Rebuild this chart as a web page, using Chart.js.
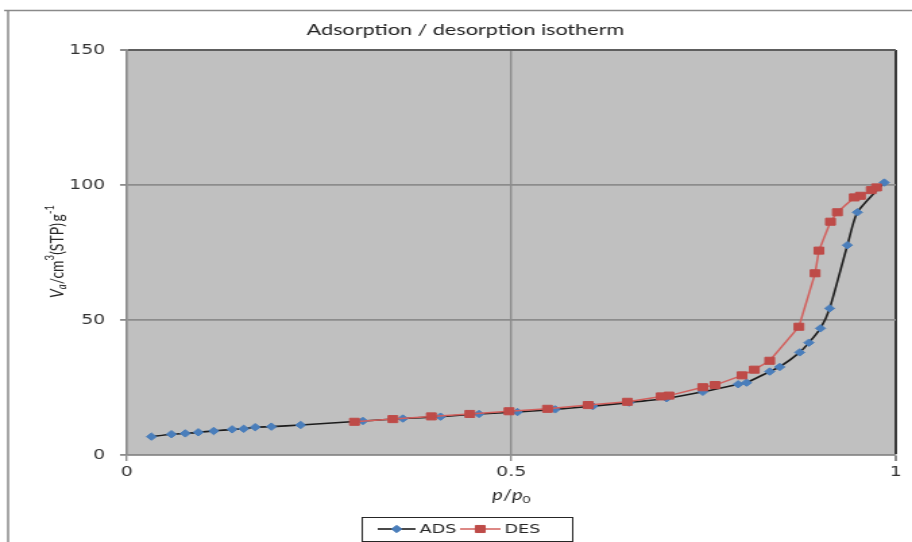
<!DOCTYPE html>
<html>
<head>
<meta charset="utf-8">
<title>Adsorption / desorption isotherm</title>
<script src="https://cdn.jsdelivr.net/npm/chart.js@4/dist/chart.umd.min.js"></script>
<style>
  html, body { margin: 0; padding: 0; background: #ffffff; overflow: hidden; }
  /* the drawing is laid out on a 676 px wide canvas and shown widened to 912 px */
  #wrap { width: 676px; height: 542px; transform: scaleX(1.34911); transform-origin: 0 0; }
  #iso { display: block; }
</style>
</head>
<body>
<div id="wrap"><canvas id="iso" width="676" height="542" style="width:676px;height:542px"></canvas></div>
<script>
// Relative pressure p/p0 and adsorbed volume (cm3(STP)/g), adsorption branch
const pRelAds = [0.032, 0.058, 0.076, 0.093, 0.113, 0.137, 0.152, 0.167, 0.188, 0.226,
                 0.307, 0.359, 0.408, 0.458, 0.508, 0.557, 0.606, 0.653, 0.702, 0.749,
                 0.795, 0.806, 0.836, 0.849, 0.875, 0.887, 0.902, 0.914, 0.937, 0.950, 0.985];
const volAds  = [6.8, 7.7, 8.0, 8.4, 8.9, 9.5, 9.7, 10.3, 10.5, 11.1,
                 12.6, 13.5, 14.2, 15.2, 15.9, 16.9, 18.1, 19.4, 21.0, 23.4,
                 26.2, 26.8, 30.9, 32.6, 38.0, 41.6, 46.9, 54.3, 77.7, 89.9, 100.9];

// Desorption branch, from high to low relative pressure
const pRelDes = [0.975, 0.968, 0.954, 0.946, 0.924, 0.915, 0.900, 0.895, 0.874, 0.836,
                 0.816, 0.800, 0.765, 0.749, 0.705, 0.695, 0.651, 0.600, 0.547, 0.497,
                 0.446, 0.396, 0.346, 0.296];
const volDes  = [99.1, 98.1, 96.0, 95.4, 89.9, 86.4, 75.7, 67.3, 47.5, 34.9,
                 31.6, 29.5, 25.9, 25.1, 22.0, 21.7, 19.7, 18.5, 17.1, 16.2,
                 15.2, 14.3, 13.3, 12.3];

const seriesNames = ['ADS', 'DES'];
const xTickValues = [0, 0.5, 1];
const yTickValues = [0, 50, 100, 150];
const chartTitle = 'Adsorption / desorption isotherm';

const toPoints = (xs, ys) => xs.map((x, i) => ({ x: x, y: ys[i] }));

const GRID = '#8c8c8c';
const TICK_FONT = { family: 'DejaVu Sans', size: 14 };

// Draws a run of text pieces (italic / subscript / superscript) centred on (x, y)
function drawRich(ctx, parts, x, y, size, family, color) {
  const fontFor = p => {
    const s = (p.sub || p.sup) ? size * 0.68 : size;
    return (p.italic ? 'italic ' : '') + s + 'px ' + family;
  };
  let total = 0;
  parts.forEach(p => { ctx.font = fontFor(p); total += ctx.measureText(p.t).width; });
  let cx = x - total / 2;
  ctx.fillStyle = color;
  ctx.textAlign = 'left';
  ctx.textBaseline = 'middle';
  parts.forEach(p => {
    ctx.font = fontFor(p);
    let dy = 0;
    if (p.sub) dy = size * 0.3;
    if (p.sup) dy = -size * 0.38;
    ctx.fillText(p.t, cx, y + dy);
    cx += ctx.measureText(p.t).width;
  });
}

const decorations = {
  id: 'decorations',
  beforeDraw(chart) {
    const { ctx, chartArea: a } = chart;
    ctx.save();
    // outer frame edges
    ctx.strokeStyle = '#8a8a8a';
    ctx.lineWidth = 1.5;
    ctx.beginPath();
    ctx.moveTo(3, 10.5);
    ctx.lineTo(chart.width, 10.5);
    ctx.moveTo(6, 10.5);
    ctx.lineTo(6, chart.height);
    ctx.stroke();
    // plot background
    ctx.fillStyle = '#c0c0c0';
    ctx.fillRect(a.left, a.top, a.right - a.left, a.bottom - a.top);
    ctx.restore();
  },
  afterDraw(chart) {
    const { ctx, chartArea: a } = chart;
    ctx.save();
    // title
    ctx.fillStyle = '#222222';
    ctx.font = '16px Lato';
    ctx.textAlign = 'center';
    ctx.textBaseline = 'middle';
    ctx.fillText(chartTitle, 345, 30);

    // x axis title: p/p0
    drawRich(ctx, [
      { t: 'p', italic: true }, { t: '/' }, { t: 'p', italic: true }, { t: '0', sub: true }
    ], (a.left + a.right) / 2, 495, 15, 'Lato', '#262626');

    // y axis title: Va/cm3(STP) g-1
    ctx.translate(42, (a.top + a.bottom) / 2 - 1);
    ctx.rotate(-Math.PI / 2);
    drawRich(ctx, [
      { t: 'V', italic: true }, { t: 'a', italic: true, sub: true }, { t: '/cm' },
      { t: '3', sup: true }, { t: '(STP)\u2009g' }, { t: '-1', sup: true }
    ], 0, 0, 14, 'Lato', '#262626');
    ctx.setTransform(1, 0, 0, 1, 0, 0);

    // legend box with line + marker samples
    const bx = 268, by = 517, bw = 156, bh = 24;
    ctx.fillStyle = '#ffffff';
    ctx.fillRect(bx, by, bw, bh);
    ctx.strokeStyle = '#262626';
    ctx.lineWidth = 1;
    ctx.strokeRect(bx + 0.5, by + 0.5, bw, bh);
    const cy = by + bh / 2;
    const items = [{ x0: 280, x1: 308, tx: 311 }, { x0: 341, x1: 371, tx: 374 }];
    chart.data.datasets.forEach((ds, i) => {
      const it = items[i];
      ctx.strokeStyle = ds.borderColor;
      ctx.lineWidth = ds.borderWidth;
      ctx.beginPath();
      ctx.moveTo(it.x0, cy);
      ctx.lineTo(it.x1, cy);
      ctx.stroke();
      ctx.fillStyle = ds.pointBackgroundColor;
      ctx.strokeStyle = ds.pointBorderColor;
      ctx.lineWidth = 1;
      Chart.helpers.drawPoint(ctx, {
        pointStyle: ds.pointStyle, radius: ds.pointRadius, rotation: 0, borderWidth: 1
      }, (it.x0 + it.x1) / 2, cy);
      ctx.fillStyle = '#262626';
      ctx.font = '13px "DejaVu Sans"';
      ctx.textAlign = 'left';
      ctx.textBaseline = 'middle';
      ctx.fillText(ds.label, it.tx, cy + 0.5);
    });
    ctx.restore();
  }
};

new Chart(document.getElementById('iso'), {
  type: 'scatter',
  data: {
    datasets: [
      {
        label: seriesNames[0],
        data: toPoints(pRelAds, volAds),
        showLine: true,
        borderColor: '#1c1c1c',
        borderWidth: 1.6,
        tension: 0.2,
        pointStyle: 'rectRot',
        pointRadius: 3.7,
        pointBackgroundColor: '#4a7ebb',
        pointBorderColor: '#4a7ebb',
        pointBorderWidth: 1,
        order: 1
      },
      {
        label: seriesNames[1],
        data: toPoints(pRelDes, volDes),
        showLine: true,
        borderColor: '#d2605d',
        borderWidth: 1.5,
        tension: 0,
        pointStyle: 'rect',
        pointRadius: 5,
        pointBackgroundColor: '#be4b48',
        pointBorderColor: '#be4b48',
        pointBorderWidth: 1,
        order: 0
      }
    ]
  },
  options: {
    responsive: false,
    devicePixelRatio: 1,
    animation: false,
    events: [],
    layout: { padding: { top: 50, right: 12, left: 0, bottom: 0 } },
    plugins: {
      legend: { display: false },
      title: { display: false },
      tooltip: { enabled: false }
    },
    scales: {
      x: {
        type: 'linear',
        min: 0,
        max: 1,
        afterBuildTicks: s => { s.ticks = xTickValues.map(v => ({ value: v })); },
        afterFit: s => { s.height = 87; },
        ticks: {
          font: TICK_FONT,
          color: '#333333',
          padding: 3,
          maxRotation: 0,
          callback: v => String(v)
        },
        grid: {
          color: c => (c.tick && c.tick.value === 1 ? '#3a3a3a' : GRID),
          lineWidth: c => (c.tick && c.tick.value === 1 ? 2 : 1.4),
          tickColor: GRID,
          tickLength: 6,
          drawTicks: true
        },
        border: { display: true, color: GRID, width: 1.4 }
      },
      y: {
        type: 'linear',
        min: 0,
        max: 150,
        afterBuildTicks: s => { s.ticks = yTickValues.map(v => ({ value: v })); },
        afterFit: s => { s.width = 94; },
        ticks: {
          font: TICK_FONT,
          color: '#333333',
          padding: 11,
          callback: v => String(v)
        },
        grid: {
          color: c => (c.tick && c.tick.value === 150 ? '#5e5e5e' : GRID),
          lineWidth: c => (c.tick && c.tick.value === 150 ? 2 : 1.8),
          tickColor: GRID,
          tickLength: 5,
          drawTicks: true
        },
        border: { display: true, color: GRID, width: 1.4 }
      }
    }
  },
  plugins: [decorations]
});
</script>
</body>
</html>
